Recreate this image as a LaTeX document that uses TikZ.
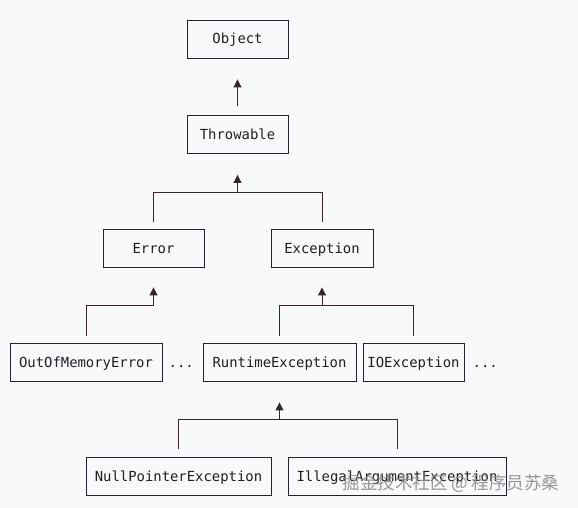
\documentclass[tikz,border=0pt]{standalone}
\usepackage{fontspec}
\setmonofont{DejaVu Sans Mono}
\newfontfamily\cjk{Noto Sans CJK SC}
\usepackage{xcolor,tikz}
\usetikzlibrary{arrows.meta,calc,positioning}
\definecolor{paper}{HTML}{F8F9FB}
\definecolor{frame}{HTML}{1F2430}
\definecolor{link}{HTML}{3A2431}
\definecolor{ink}{HTML}{1E2027}

\begin{document}
\begin{tikzpicture}[x=1pt,y=1pt,
  cls/.style={draw=frame,line width=0.9pt,minimum height=38pt,inner sep=0pt,text=ink,
    text height=12pt,text depth=2pt,font=\ttfamily\fontsize{13.9}{16}\selectfont},
  more/.style={inner sep=0pt,text=ink,text height=12pt,text depth=2pt,
    font=\ttfamily\fontsize{13.9}{16}\selectfont},
  tree/.style={link,line width=1pt},
  isa/.style={link,line width=1pt,-{Triangle[length=8pt,width=8pt,sep=4pt]}}]
  % canvas
  \fill[paper] (0,0) rectangle (578,-508);
  % classes
  \foreach \n/\x/\y/\w/\t in {obj/237.5/39/101/Object, thr/237.5/134.5/101/Throwable,
      err/153.5/248/101/Error, exc/322/248/102/Exception,
      oom/86/362/152/OutOfMemoryError, rt/279.5/362/153/RuntimeException, io/413.5/362/101/IOException,
      npe/178.5/476/185/NullPointerException, iae/397/476/218/IllegalArgumentException}
    \node[cls,minimum width=\w pt] (\n) at (\x,-\y) {\t};
  \node[more,right=6pt of oom] (oommore) {...};
  \node[more,right=8pt of io] (iomore) {...};
  % Object <- Throwable
  \draw[isa,shorten <=9pt,shorten >=17pt] (thr.north) -- (obj.south);
  % Throwable <- Error, Exception
  \coordinate (j1) at ($(thr.south)+(0,-39)$);
  \draw[tree,shorten <=7pt,shorten >=7pt] (err.north) |- (j1) -| (exc.north);
  \draw[isa,shorten >=17pt] (j1) -- (thr.south);
  % Error <- OutOfMemoryError
  \coordinate (j2) at ($(err.south)+(0,-38)$);
  \draw[tree,shorten <=7pt] (oom.north) |- (j2);
  \draw[isa,shorten >=16pt] (j2) -- (err.south);
  % Exception <- RuntimeException, IOException
  \coordinate (j3) at ($(exc.south)+(0,-38)$);
  \draw[tree,shorten <=7pt,shorten >=7pt] (rt.north) |- (j3) -| (io.north);
  \draw[isa,shorten >=16pt] (j3) -- (exc.south);
  % RuntimeException <- NullPointerException, IllegalArgumentException
  \coordinate (j4) at ($(rt.south)+(0,-38)$);
  \draw[tree,shorten <=8pt,shorten >=8pt] (npe.north) |- (j4) -| (iae.north);
  \draw[isa,shorten >=17pt] (j4) -- (rt.south);
  % watermark
  \node[text=black!45,opacity=0.9,font=\cjk\fontsize{17.5}{19}\selectfont] (mark) at (451,-484)
    {掘金技术社区 @ 程序员苏桑};
\end{tikzpicture}
\end{document}
